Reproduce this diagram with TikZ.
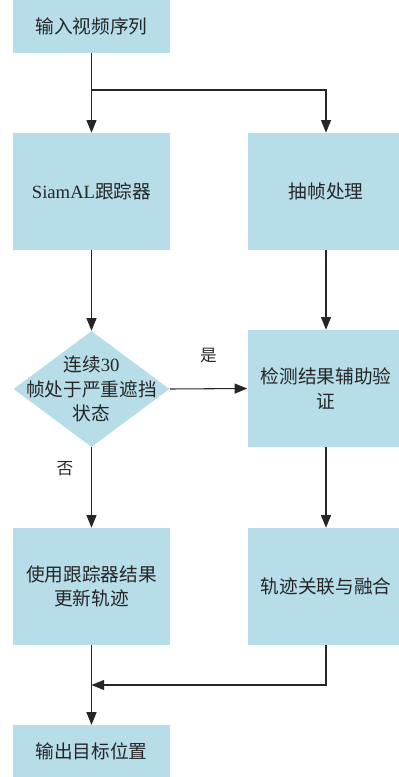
\documentclass[tikz,border=0pt]{standalone}
\usepackage{fontspec}
\setmainfont{Liberation Serif}
\newfontfamily\cjk{Noto Sans CJK SC}
\usetikzlibrary{arrows.meta,shapes.geometric}
\definecolor{boxblue}{RGB}{182,221,232}
\newcommand\cjkfs{\cjk\fontsize{14}{18.4}\selectfont}
\newcommand\lblfs{\cjk\fontsize{12.5}{15}\selectfont}
\begin{document}
\begin{tikzpicture}[x=0.75pt,y=-0.75pt,
  box/.style={fill=boxblue, draw=none, minimum width=117.75pt, minimum height=87.75pt,
    inner sep=0pt, align=center, font=\cjkfs, text=black!85},
  flat/.style={box, minimum height=39.5pt},
  decision/.style={diamond, fill=boxblue, draw=none, minimum width=117pt, minimum height=87pt, inner sep=0pt},
  dtext/.style={align=center, font=\cjkfs, text=black!85, inner sep=0pt},
  line/.style={draw=black!85, line width=0.8pt},
  arr/.style={line, -{Triangle[length=9.5pt,width=7.5pt]}},
  lbl/.style={font=\lblfs, text=black!85, inner sep=0pt}]
\useasboundingbox (0,0) rectangle (399,777);
\clip (0,0) rectangle (399,777);
\node[flat] (in) at (91.5,26.5) {输入视频序列};
\node[box] (siam) at (91.5,191.5) {{\rmfamily SiamAL}跟踪器};
\node[box] (frame) at (326,191.5) {抽帧处理};
\node[decision] (dia) at (91.5,389) {};
\node[dtext] (diat) at (91.5,389) {连续{\rmfamily 30}\\帧处于严重遮挡\\状态};
\node[box] (det) at (326,388.5) {检测结果辅助验\\证};
\node[box] (use) at (91.5,586.5) {使用跟踪器结果\\更新轨迹};
\node[box] (fuse) at (326,586.5) {轨迹关联与融合};
\node[flat] (out) at (91.5,751.5) {输出目标位置};
\coordinate (split) at (91.5,90);
\coordinate (merge) at (91.5,685);
\draw[line] (in.south) -- (split);
\draw[arr] (split) -- (siam.north);
\draw[arr] (split) -| (frame.north);
\draw[arr] (siam.south) -- (dia.north);
\draw[arr] (frame.south) -- (det.north);
\draw[arr] (dia.east) -- node[lbl, midway, yshift=24.75pt] (yes) {是} (det.west);
\draw[arr] (dia.south) -- node[lbl, pos=0.26, xshift=-20pt] (no) {否} (use.north);
\draw[arr] (det.south) -- (fuse.north);
\draw[line] (use.south) -- (merge);
\draw[arr] (fuse.south) |- (merge);
\draw[arr] (merge) -- (out.north);
\end{tikzpicture}
\end{document}
